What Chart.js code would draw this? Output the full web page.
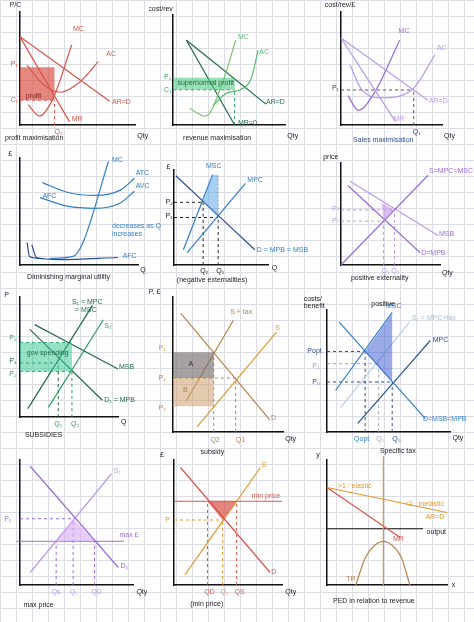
<!DOCTYPE html>
<html><head><meta charset="utf-8">
<script src="https://cdn.jsdelivr.net/npm/chart.js@4"></script>
<style>
body{margin:0;width:474px;height:622px;overflow:hidden;background-color:#fff;
background-image:linear-gradient(#dcdce4 1px,transparent 1px),linear-gradient(90deg,#dcdce4 1px,transparent 1px);background-size:16px 16px;font-family:"Liberation Sans",sans-serif}
canvas{position:absolute}
</style></head><body>
<script>
// panel 1 - profit max
const p1AR = [[0,7.8],[7.8,2.1]]
const p1MR = [[0,7.8],[4.3,0.3]]
const p1MC = [[0.7,1.8],[1.7,0.8],[2.9,2.4],[4.5,7.1]]
const p1AC = [[0.6,5.3],[2,3.6],[3.5,2.9],[5.2,3.8],[6.8,5.6]]
// panel 2 - revenue max
const p2MC = [[1.5,1.5],[2.9,0.8],[4.3,3.5],[5.6,7.7]]
const p2AC = [[3.6,1.8],[4.8,2.9],[6,3.2],[7,4.3],[7.6,6.8]]
const p2AR = [[1.2,7.7],[8.3,1.9]]
const p2MR = [[1.2,7.7],[5.5,0]]
// panel 3 - sales max
const p3AR = [[0,7.7],[8.6,2.2]]
const p3MR = [[0,7.7],[5.4,0.3]]
const p3MC = [[0.7,2.6],[1.7,1.3],[3.4,3],[5.8,7.5]]
const p3AC = [[0.9,5.3],[2,3.2],[3.9,2.4],[7,3.1],[9.3,6.2]]
// panel 4 - cost curves
const p4MC = [[2.5,0.6],[4.5,0.8],[5.3,2],[7.5,9.7]]
const p4ATC = [[1.9,7.7],[4,6.8],[6.4,6.5],[8.5,7],[9.7,8.1]]
const p4AVC = [[1.7,6.3],[4,5.5],[6.4,5.3],[8.5,5.8],[9.7,6.9]]
const p4AFC = [[1,1.9],[1.4,0.7],[3.4,0.5],[8.3,0.7]]
const p4LOW = [[0.6,2.1],[0.8,0.8],[2,0.6]]
// panel 5 - negative externality
const p5D = [[0.2,9.4],[8.6,1.6]]
const p5MPC = [[1.4,1.3],[7.6,8.6]]
const p5MSC = [[1,1.6],[4.1,9.5]]
// panel 6 - positive externality
const p6S = [[0,0],[8.8,8.8]]
const p6D = [[0.7,7.8],[8,1.2]]
const p6MSB = [[0.9,8.2],[9.8,2.9]]
// panel 7 - subsidies
const p7S1 = [[0.8,0.7],[7.4,9.3]]
const p7S2 = [[2.9,0.8],[8.5,8.1]]
const p7D = [[1,7.3],[8.4,1.4]]
const p7MSB = [[1.5,7.7],[10,4]]
// panel 8 - subsidy / tax
const p8D = [[0.7,8.8],[8.8,0.9]]
const p8S = [[2.2,0.4],[9.4,7.4]]
const p8ST = [[1.2,2.3],[5.5,8.3]]
// panel 9 - specific tax
const p9D = [[1,9],[8,1.1]]
const p9MSC = [[0.7,3.4],[5.3,9.8]]
const p9S1 = [[1.1,2],[6.7,9]]
const p9MPC = [[2.5,0.7],[8.4,7.5]]
// panel 10 - max price
const p10D = [[0.9,9.5],[8.7,1.4]]
const p10S = [[0.9,1],[8.1,8.9]]
const p10MAX = [[-0.3,3.5],[9.2,3.5]]
// panel 11 - min price
const p11D = [[0.6,9.4],[8.9,1]]
const p11S = [[1,0.8],[8,9.4]]
const p11MIN = [[0,6.7],[10,6.7]]
// panel 12 - PED and revenue
const p12AR = [[0,7.8],[10,5.8]]
const p12MR = [[0,7.8],[6.1,3.8]]
const p12TR = [[2.4,0],[3.2,2.2],[4,3.2],[4.7,3.5],[5.4,3.2],[6.2,2.2],[6.9,0]]
const p12V = [[4.7,0],[4.7,10.3]]
const p12X = [[0,4.5],[8,4.5]]

const RED='#d9554a',GRN='#2e9e63',DGR='#1f6b45',PUR='#9a6cd6',LPU='#b99be6',BLU='#2f7fc9',DBL='#2a4f8f',ORG='#e0982c',BRN='#b9834a'

const pts = a => a.map(p => ({x:p[0], y:p[1]}))
function line(a, c, dash, w){ return {data:pts(a), borderColor:c, borderWidth:w||1.2, borderDash:dash||[], showLine:true, pointRadius:0, tension:a.length>2?0.4:0, cubicInterpolationMode:'monotone', fill:false} }
function dashed(x, y, c){ // guide lines from axes
  const out=[]
  if(y!=null) out.push(line([[0,y],[x,y]], c, [3,3], 1))
  if(x!=null) out.push(line([[x,0],[x,y]], c, [3,3], 1))
  return out
}

const notes = {
  id:'notes',
  afterDatasetsDraw(ch, args, o){
    const ctx=ch.ctx, sx=ch.scales.x, sy=ch.scales.y
    ctx.save()
    for(const s of (o.shades||[])){
      ctx.beginPath()
      s.p.forEach((p,i)=>{const X=sx.getPixelForValue(p[0]),Y=sy.getPixelForValue(p[1]); i?ctx.lineTo(X,Y):ctx.moveTo(X,Y)})
      ctx.closePath(); ctx.fillStyle=s.c; ctx.fill()
    }
    for(const t of (o.texts||[])){
      ctx.fillStyle=t[3]||'#222'; ctx.font=(t[5]||'7px')+' "Liberation Sans"'; ctx.textAlign=t[4]||'left'; ctx.textBaseline='middle'
      ctx.fillText(t[2], sx.getPixelForValue(t[0]), sy.getPixelForValue(t[1]))
    }
    ctx.restore()
  }
}
Chart.register(notes)

function panel(ox, oy, right, top, datasets, shades, texts){
  const c=document.createElement('canvas')
  const L=24,T=18,R=44,B=26
  c.width=right-ox+L+R; c.height=oy-top+T+B
  c.style.left=(ox-L)+'px'; c.style.top=(top-T)+'px'
  c.style.width=c.width+'px'; c.style.height=c.height+'px'
  document.body.appendChild(c)
  new Chart(c,{type:'scatter',data:{datasets},options:{
    responsive:false,animation:false,clip:false,
    layout:{padding:{left:L,top:T,right:R,bottom:B}},
    scales:{
      x:{min:0,max:10,display:true,ticks:{display:false},grid:{display:false,drawTicks:false},border:{color:'#111',width:1.5}},
      y:{min:0,max:10,display:true,ticks:{display:false},grid:{display:false,drawTicks:false},border:{color:'#111',width:1.5}}
    },
    plugins:{legend:{display:false},tooltip:{enabled:false},notes:{shades,texts}}
  }})
}

// 1
panel(20,125,135,12,[line(p1AR,RED),line(p1MR,RED),line(p1MC,RED),line(p1AC,RED),...dashed(3,2.2,RED)],
  [{p:[[0,2.2],[3,2.2],[3,5.1],[0,5.1]],c:'rgba(217,85,74,0.7)'}],
  [[4.6,8.5,'MC',RED],[7.5,6.3,'AC',RED],[8,2,'AR=D',RED],[4.5,0.5,'MR',RED],[-0.8,5.4,'P₁',RED],[-0.8,2.2,'C₁',RED],[3,-0.6,'Q₁',RED],
   [-0.9,10.6,'P/C','#222','6px'],[0.5,2.6,'profit','#822','6px'],[-1.3,-1.2,'profit maximisation','#222','6px'],[10.2,-1,'Qty','#222','8px']])
// 2
panel(173,125,285,15,[line(p2MC,'#7cc46b'),line(p2AC,'#5bbd6a'),line(p2AR,DGR),line(p2MR,DGR),...dashed(5.5,3.2,GRN)],
  [{p:[[0,3.2],[5.5,3.2],[5.5,4.3],[0,4.3]],c:'rgba(70,200,120,0.55)'}],
  [[5.8,8,'MC','#5bbd6a'],[7.7,6.6,'AC','#5bbd6a'],[8.3,2.1,'AR=D',DGR],[5.8,0.2,'MR=0',DGR],[-0.8,4.4,'P₁',GRN],[-0.8,3.2,'C₁',GRN],
   [-2.2,10.5,'cost/rev','#222','6px'],[0.4,3.8,'supernormal profit',DGR,'5px'],[0.9,-1.2,'revenue maximisation','#222','7px'],[10.2,-1,'Qty','#222','8px']])
// 3
panel(341,125,442,12,[line(p3AR,LPU),line(p3MR,LPU),line(p3MC,PUR),line(p3AC,LPU),...dashed(7.2,3.1,'#555')],[],
  [[5.7,8.3,'MC',PUR],[9.5,6.8,'AC',LPU],[8.7,2.1,'AR=D',LPU,'6px'],[5.2,0.5,'MR',LPU],[-0.9,3.3,'P₁','#444'],[7.1,-0.6,'Q₁','#444'],
   [-1.6,10.6,'cost/rev/£','#222','6px'],[1.2,-1.3,'Sales maximisation',DBL,'9px'],[10.2,-1,'Qty','#222','8px']])
// 4
panel(20,265,138,158,[line(p4MC,BLU),line(p4ATC,BLU),line(p4AVC,BLU),line(p4AFC,DBL),line(p4LOW,DBL)],[],
  [[7.8,9.8,'MC',BLU],[9.8,8.6,'ATC',BLU],[9.8,7.4,'AVC',BLU],[8.7,0.8,'AFC',BLU],[1.9,6.4,'AFC',BLU,'5px'],[7.8,3.6,'decreases as Q',BLU,'5px'],[7.8,2.9,'increases',BLU,'5px'],
   [-1,10.4,'£','#222','6px'],[0.6,-1.1,'Diminishing marginal utility','#222','6.5px'],[10.2,-0.5,'Q','#222','7px']])
// 5
panel(174,265,268,170,[line(p5D,DBL),line(p5MPC,BLU),line(p5MSC,BLU),...dashed(3.1,6.6,'#222'),...dashed(4.7,5.0,'#222'),line([[4.7,5],[4.7,9.3]],'#999',[2,2],0.8)],
  [{p:[[3.1,6.6],[4.1,9.5],[4.7,9.5],[4.7,5]],c:'rgba(80,160,230,0.5)'}],
  [[3.4,10.4,'MSC',BLU],[7.8,8.9,'MPC',BLU],[8.8,1.6,'D = MPB = MSB',BLU,'6px'],[-0.9,6.6,'P₂'],[-0.9,5.1,'P₁'],[2.8,-0.6,'Q₂'],[4.5,-0.6,'Q₁'],
   [-0.8,10.3,'£','#222','8px'],[0.3,-1.6,'(negative externalities)','#222','7px'],[10.4,-0.3,'Q','#222','8px']])
// 6
panel(341,265,440,163,[line(p6S,PUR),line(p6D,PUR),line(p6MSB,LPU),...dashed(4.3,4.3,LPU),...dashed(5.4,5.4,LPU)],
  [{p:[[4.1,6.1],[5.4,5.4],[4.3,4.3]],c:'rgba(190,150,235,0.6)'}],
  [[8.9,9.2,'S=MPC=MSC',PUR],[8.1,1.2,'D=MPB',PUR,'6px'],[9.9,3,'MSB',PUR,'6px'],[-0.9,5.5,'P²',LPU],[-0.9,4.3,'P¹',LPU],[4.1,-0.6,'Q₁ Q₂',LPU],
   [-1.8,10.6,'price','#222','7px'],[1,-1.3,'positive externality','#222','7px'],[10.2,-0.8,'Qty','#222','8px']])
// 7
panel(20,417,118,297,[line(p7S1,DGR),line(p7S2,GRN),line(p7D,DGR),line(p7MSB,DGR),...dashed(3.9,4.5,DGR),...dashed(5.3,3.8,GRN),line([[0,6.2],[5.3,6.2]],GRN,[3,3],1)],
  [{p:[[0,3.8],[5.3,3.8],[5.3,6.2],[0,6.2]],c:'rgba(60,200,150,0.55)'}],
  [[5.3,9.6,'S₁ = MPC',DGR,'6.5px'],[5.6,8.9,'= MSC',DGR,'6.5px'],[8.6,7.6,'S₂',GRN],[10.1,4.2,'MSB',DGR,'6px'],[8.6,1.4,'D₁ = MPB',DGR,'6px'],
   [-1.1,6.6,'P₂',GRN],[-1.1,4.7,'P₁',DGR],[-1.1,3.6,'P₂',GRN],[3.5,-0.6,'Q₁',GRN],[5.2,-0.6,'Q₂',GRN],[0.7,5.3,'gov spending',DGR,'5px'],
   [-1.6,10.2,'P','#222','6px'],[0.5,-1.5,'SUBSIDIES','#222','8px'],[10.3,-0.4,'Q',"#222",'8px']])
// 8
panel(173,432,283,297,[line(p8D,BRN),line(p8S,ORG),line(p8ST,BRN),...dashed(5.7,4,BRN),line([[3.7,0],[3.7,5.9]],BRN,[3,3],1)],
  [{p:[[0,4],[3.7,4],[3.7,5.9],[0,5.9]],c:'rgba(120,110,110,0.65)'},{p:[[0,1.9],[3.7,1.9],[3.7,4],[0,4]],c:'rgba(205,160,110,0.55)'}],
  [[5.2,8.9,'S + tax',BRN],[9.3,7.7,'S',ORG,'9px'],[8.9,1,'D',BRN],[1.4,5,'A','#333','11px'],[0.9,3.1,'B',BRN,'10px'],
   [-1.3,6.2,'P₁',ORG],[-1.3,4,'P₁',BRN],[-1.3,1.8,'P₂',BRN],[3.4,-0.6,'Q2',BRN],[5.7,-0.6,'Q1',BRN],
   [-2.2,10.4,'P, £',"#222",'7px'],[2.5,-1.5,'subsidy','#222','6.5px'],[10.2,-0.5,'Qty','#222','7px']])
// 9
panel(327,432,450,310,[line(p9D,BLU),line(p9MSC,BLU),line(p9S1,'#b8cde6'),line(p9MPC,DBL),...dashed(3.1,6.6,DBL),...dashed(5.3,4.1,DBL),...dashed(4.2,5.6,'#9ab')],
  [{p:[[3.1,6.6],[5.3,9.7],[5.3,4.1]],c:'rgba(70,100,210,0.55)'}],
  [[4.8,10.3,'MSC',BLU,'9px'],[6.9,9.3,'S₁ = MPC+tax','#a8c0e0'],[8.6,7.5,'MPC',DBL],[7.8,1.1,'D=MSB=MPB',BLU,'6px'],
   [-1.6,6.6,'Popt',DBL,'6px'],[-1.2,5.4,'P₁','#9ab'],[-1.2,4.1,'P₀',DBL],[2.2,-0.6,'Qopt',BLU,'6px'],[4,-0.6,'Q₁','#9ab'],[5.3,-0.6,'Q₀',DBL],
   [-1.9,10.9,'costs/','#222','6.5px'],[-1.9,10.3,'benefit','#222','6px'],[3.6,10.5,'positive','#222','5px'],[4.3,-1.6,'Specific tax','#222','9px'],[10.2,-0.5,'Qty','#222','7px']])
// 10
panel(20,585,133,460,[line(p10D,PUR),line(p10S,LPU),line(p10MAX,PUR),...dashed(4.7,5.3,PUR),line([[3.2,0],[3.2,3.5]],PUR,[3,3],1),line([[6.6,0],[6.6,3.5]],PUR,[3,3],1)],
  [{p:[[3.2,3.5],[4.7,5.3],[6.6,3.5]],c:'rgba(215,170,245,0.6)'}],
  [[8.3,9.1,'S₁',LPU],[8.9,1.5,'D₁',PUR],[8.8,4,'max £',PUR,'8px'],[-1.4,5.3,'P₁',PUR],[2.8,-0.6,'Qs',LPU],[4.4,-0.6,'Q₁',LPU],[6.3,-0.6,'QD',LPU],
   [0.3,-1.6,'max price','#222','7px'],[10.3,-0.6,'Qty','#222','7px']])
// 11
panel(174,585,282,460,[line(p11D,RED),line(p11S,ORG),line(p11MIN,RED),...dashed(4.5,5.2,ORG),line([[3.1,0],[3.1,6.7]],RED,[3,3],1),line([[5.8,0],[5.8,6.7]],RED,[3,3],1)],
  [{p:[[3.1,6.7],[5.8,6.7],[4.5,5.2]],c:'rgba(215,80,70,0.7)'}],
  [[8.1,9.6,'S',ORG],[9,1,'D',RED],[7.2,7.1,'min price',RED,'5.5px'],[-0.8,5.2,'P',ORG],[2.8,-0.6,'QD',RED,'6px'],[4.3,-0.6,'Q₁',ORG,'6px'],[5.6,-0.6,'QS',RED,'6px'],
   [-1.3,10.4,'£','#222','8px'],[1.5,-1.5,'(min price)','#222','7px'],[10.3,-0.6,'Qty','#222','7px']])
// 12
panel(327,585,447,460,[line(p12AR,ORG),line(p12MR,RED),line(p12TR,BRN),line(p12V,ORG),line(p12X,'#111')],[],
  [[0.9,7.9,'>1 : elastic',ORG],[6.5,6.5,'<1 : inelastic',ORG,'6px'],[8.2,5.4,'AR=D',ORG],[5.5,3.7,'MR',RED,'6px'],[8.3,4.2,'output','#222','5px'],[1.6,0.5,'TR',BRN],
   [-0.9,10.4,'y','#222','10px'],[0.5,-1.3,'PED in relation to revenue','#222','5px'],[10.4,0,'x','#222','8px']])
</script>
</body></html>
